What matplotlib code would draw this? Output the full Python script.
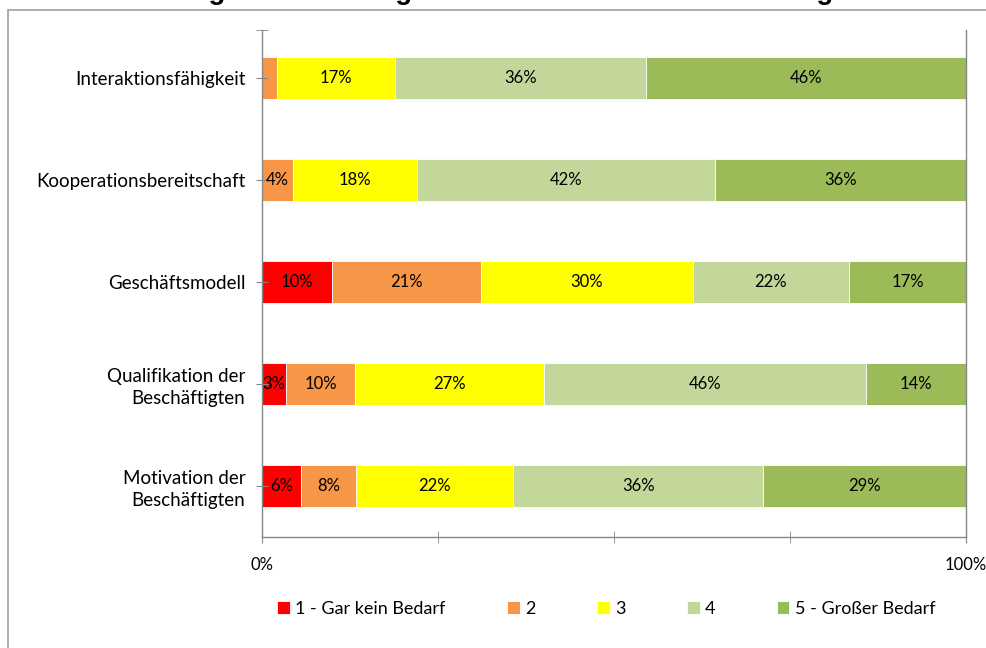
import numpy as np
import matplotlib
matplotlib.use("Agg")
import matplotlib.pyplot as plt
from matplotlib.patches import Rectangle
from matplotlib.ticker import FixedLocator

plt.rcParams['font.family'] = ['Lato', 'DejaVu Sans']

# Kategorien (von oben nach unten)
categories = ['Interaktionsfähigkeit', 'Kooperationsbereitschaft', 'Geschäftsmodell',
              'Qualifikation der\nBeschäftigten', 'Motivation der\nBeschäftigten']

# Anteile je Antwortstufe (in %)
stufe_1 = [0.0, 0.0, 9.9, 3.4, 5.6]
stufe_2 = [2.1, 4.4, 21.2, 9.8, 7.8]
stufe_3 = [16.8, 17.6, 30.1, 26.8, 22.3]
stufe_4 = [35.6, 42.4, 22.2, 45.8, 35.5]
stufe_5 = [45.6, 35.6, 16.6, 14.2, 28.8]

series_names = ['1 - Gar kein Bedarf', '2', '3', '4', '5 - Großer Bedarf']
colors = ['#FF0000', '#F79646', '#FFFF00', '#C4D79B', '#9BBB59']

fig = plt.figure(figsize=(9.86, 6.48), dpi=100)

# Rahmen des Diagramms
fig.patches.append(Rectangle((8 / 986, -0.01), 1.0, 1 - 10 / 648 + 0.01,
                             transform=fig.transFigure, fill=False,
                             edgecolor='#a0a0a0', linewidth=1.2))

# Titel (oben abgeschnitten wie im Original)
fig.text(0.52, 1 + 1 / 648, 'Einschätzung der Handlungsfelder: Bedarf nach Gestaltungsbereichen',
         ha='center', va='baseline', fontsize=20, fontweight='bold',
         family=['Liberation Sans', 'DejaVu Sans'])

ax = fig.add_axes([262 / 986, 1 - 537 / 648, (966 - 262) / 986, (537 - 30) / 648])

y = np.arange(len(categories))
data = [stufe_1, stufe_2, stufe_3, stufe_4, stufe_5]
left = np.zeros(len(categories))
for vals, name, col in zip(data, series_names, colors):
    vals = np.array(vals) / 100
    bars = ax.barh(y, vals, left=left, height=0.41, color=col, label=name,
                   edgecolor='white', linewidth=0.6)
    for b, v in zip(bars, vals):
        if v >= 0.03:
            ax.text(b.get_x() + b.get_width() / 2, b.get_y() + b.get_height() / 2,
                    '%d%%' % round(v * 100), ha='center', va='center',
                    fontsize=12, color='black')
    left += vals

ax.set_xlim(0, 1)
ax.set_ylim(4.5, -0.47)

ax.set_yticks(y)
ax.set_yticklabels(categories, fontsize=13.5, linespacing=1.3)
ax.yaxis.set_minor_locator(FixedLocator([-0.47]))
ax.tick_params(axis='y', which='both', direction='inout', length=8, color='#868686', pad=8)

ax.set_xticks([0, 1])
ax.set_xticklabels(['0%', '100%'], fontsize=12)
ax.xaxis.set_minor_locator(FixedLocator([0.25, 0.5, 0.75]))
ax.tick_params(axis='x', which='both', direction='inout', length=9, color='#868686', pad=10)

for s in ['left', 'bottom', 'right']:
    ax.spines[s].set_color('#868686')
    ax.spines[s].set_linewidth(1.0)
ax.spines['top'].set_visible(False)

fig.legend(loc='center', bbox_to_anchor=(0.615, 1 - 609 / 648), ncol=5, frameon=False,
           fontsize=13, handlelength=0.7, handleheight=0.7, handletextpad=0.3,
           columnspacing=3.4)

fig.savefig('out.png', dpi=100)
